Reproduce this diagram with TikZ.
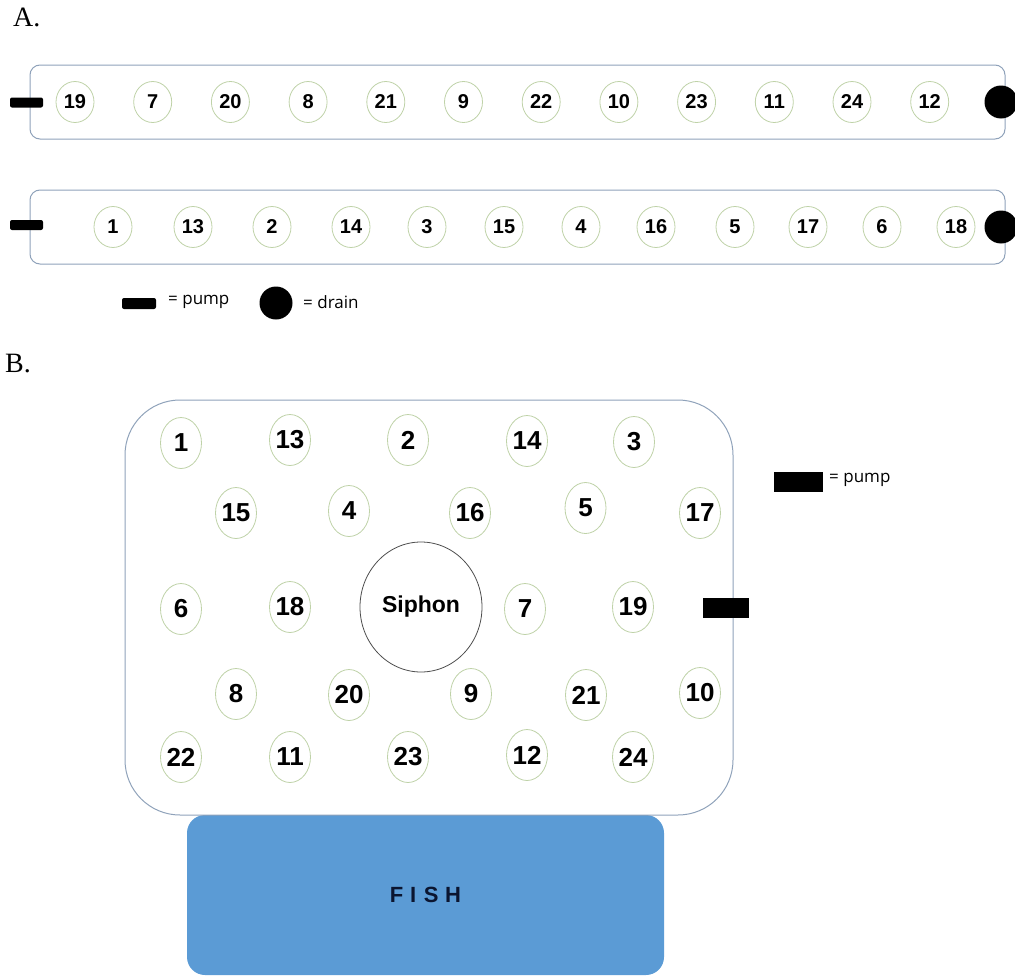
\documentclass[tikz,border=0pt]{standalone}
\usepackage{fontspec}
\setmainfont{Liberation Serif}
\setsansfont{Liberation Sans}
\newfontfamily\legendfont{Open Sans}
\usetikzlibrary{shapes.geometric}

\definecolor{troughEdge}{HTML}{8FA2BA}
\definecolor{potEdge}{HTML}{BFD2A8}
\definecolor{fishBlue}{HTML}{5B9BD5}
\definecolor{fishInk}{HTML}{0B1530}

\begin{document}
\begin{tikzpicture}[
    x=1pt, y=-1pt,
    panelLabel/.style={
        anchor=base west,
        inner sep=0pt,
        font=\fontsize{28pt}{30pt}\selectfont\rmfamily
    },
    troughBox/.style={
        rectangle,
        draw=troughEdge,
        line width=1pt,
        rounded corners=10pt,
        minimum width=975pt,
        minimum height=74pt,
        inner sep=0pt
    },
    potA/.style={
        ellipse,
        draw=potEdge,
        line width=0.8pt,
        fill=white,
        minimum width=38pt,
        minimum height=41pt,
        inner sep=0pt,
        font=\fontsize{20pt}{20pt}\selectfont\sffamily\bfseries
    },
    potB/.style={
        potA,
        minimum width=41pt,
        minimum height=51pt,
        font=\fontsize{26pt}{26pt}\selectfont\sffamily\bfseries
    },
    pumpBar/.style={
        rectangle,
        fill=black,
        rounded corners=2pt,
        minimum width=33pt,
        minimum height=10pt,
        inner sep=0pt
    },
    drainDot/.style={
        circle,
        fill=black,
        minimum size=33pt,
        inner sep=0pt
    },
    legendText/.style={
        anchor=west,
        inner sep=0pt,
        font=\fontsize{17pt}{17pt}\selectfont\legendfont
    }
]
\useasboundingbox (0,0) rectangle (1015,977);

% ==================== PANEL A ====================
\node[panelLabel] (labelA) at (13, 27) {A.};

% Troughs
\node[troughBox] (troughTop) at (517.5, 102) {};
\node[troughBox] (troughBottom) at (517.5, 227) {};

% Pumps and drains
\node[pumpBar] (pumpTop) at (26.5, 102.5) {};
\node[pumpBar] (pumpBottom) at (26.5, 225) {};
\node[drainDot] (drainTop) at (1001, 102) {};
\node[drainDot] (drainBottom) at (1001, 227) {};

% Upper trough pots
\node[potA] (aTop19) at (75, 102) {19};
\node[potA] (aTop7) at (152.7, 102) {7};
\node[potA] (aTop20) at (230.4, 102) {20};
\node[potA] (aTop8) at (308.1, 102) {8};
\node[potA] (aTop21) at (385.8, 102) {21};
\node[potA] (aTop9) at (463.5, 102) {9};
\node[potA] (aTop22) at (541.2, 102) {22};
\node[potA] (aTop10) at (618.9, 102) {10};
\node[potA] (aTop23) at (696.6, 102) {23};
\node[potA] (aTop11) at (774.3, 102) {11};
\node[potA] (aTop24) at (852, 102) {24};
\node[potA] (aTop12) at (929.7, 102) {12};

% Lower trough pots
\node[potA] (aBot1) at (113, 227) {1};
\node[potA] (aBot13) at (193, 227) {13};
\node[potA] (aBot2) at (272, 227) {2};
\node[potA] (aBot14) at (351, 227) {14};
\node[potA] (aBot3) at (427, 227) {3};
\node[potA] (aBot15) at (504, 227) {15};
\node[potA] (aBot4) at (581, 227) {4};
\node[potA] (aBot16) at (656, 227) {16};
\node[potA] (aBot5) at (735, 227) {5};
\node[potA] (aBot17) at (808, 227) {17};
\node[potA] (aBot6) at (882, 227) {6};
\node[potA] (aBot18) at (956, 227) {18};

% Legend
\node[pumpBar, minimum width=34pt, minimum height=11pt] (keyPumpA) at (139, 303.5) {};
\node[legendText] (keyPumpAText) at (168, 302) {= pump};
\node[drainDot] (keyDrain) at (276, 303) {};
\node[legendText] (keyDrainText) at (303, 302) {= drain};

% ==================== PANEL B ====================
\node[panelLabel] (labelB) at (5, 372) {B.};

% Fish tank and grow bed
\node[rectangle, fill=fishBlue, rounded corners=18pt, minimum width=477pt, minimum height=160pt,
      inner sep=0pt, text=fishInk, font=\fontsize{22pt}{22pt}\selectfont\sffamily\bfseries]
      (fishTank) at (425.5, 895) {F\hspace{0.3em}I\hspace{0.35em}S\hspace{0.3em}H};
\node[rectangle, draw=troughEdge, line width=1pt, rounded corners=55pt, minimum width=608pt,
      minimum height=415pt, inner sep=0pt] (growBed) at (429, 607.5) {};

% Siphon and pump
\node[ellipse, draw=black!70, line width=0.8pt, minimum width=122pt, minimum height=130pt, inner sep=0pt,
      font=\fontsize{23pt}{23pt}\selectfont\sffamily\bfseries] (siphon) at (421, 607) {Siphon};
\node[pumpBar, rounded corners=0pt, minimum width=46pt, minimum height=20pt] (pumpB) at (726, 608) {};

% Pots, row by row
\node[potB] (b1) at (181, 443) {1};
\node[potB] (b13) at (290, 440) {13};
\node[potB] (b2) at (408, 440) {2};
\node[potB] (b14) at (527, 441) {14};
\node[potB] (b3) at (634, 442) {3};

\node[potB] (b15) at (236, 513) {15};
\node[potB] (b4) at (349, 511) {4};
\node[potB] (b16) at (470, 513) {16};
\node[potB] (b5) at (585.5, 508) {5};
\node[potB] (b17) at (700, 513) {17};

\node[potB] (b6) at (181, 609) {6};
\node[potB] (b18) at (290, 607) {18};
\node[potB] (b7) at (525, 609) {7};
\node[potB] (b19) at (633, 607) {19};

\node[potB] (b8) at (236, 694) {8};
\node[potB] (b20) at (349, 695) {20};
\node[potB] (b9) at (471, 694) {9};
\node[potB] (b21) at (586, 695) {21};
\node[potB] (b10) at (700, 693) {10};

\node[potB] (b22) at (181, 757) {22};
\node[potB] (b11) at (290, 757) {11};
\node[potB] (b23) at (408, 757) {23};
\node[potB] (b12) at (527, 755) {12};
\node[potB] (b24) at (633, 757) {24};

% Legend
\node[pumpBar, rounded corners=0pt, minimum width=49pt, minimum height=20pt] (keyPumpB) at (798.5, 482) {};
\node[legendText] (keyPumpBText) at (829, 480) {= pump};

\end{tikzpicture}
\end{document}
